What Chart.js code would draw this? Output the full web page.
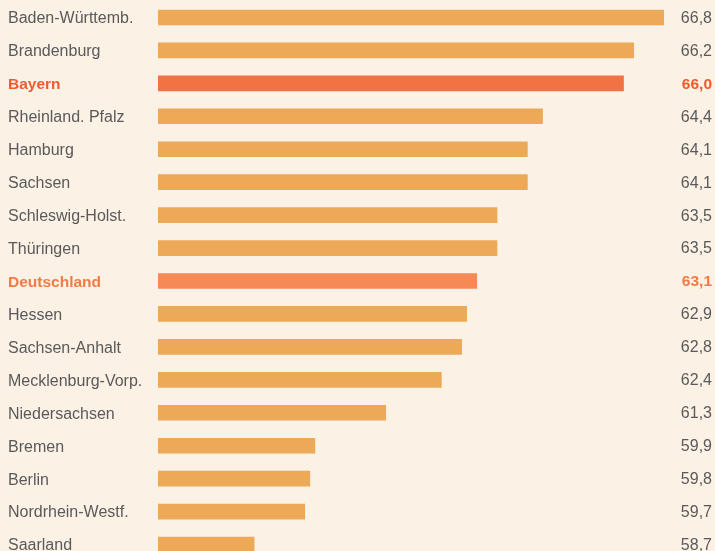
<!DOCTYPE html>
<html>
<head>
<meta charset="utf-8">
<script src="https://cdn.jsdelivr.net/npm/chart.js@4"></script>
<style>
  html, body { margin: 0; padding: 0; background: #fbf1e5; overflow: hidden; }
  #wrap { position: relative; width: 715px; height: 561px; }
</style>
</head>
<body>
<div id="wrap"><canvas id="myChart"></canvas></div>
<script>
// Bundeslaender, sorted as in the source chart
var laender = ['Baden-Württemb.', 'Brandenburg', 'Bayern', 'Rheinland. Pfalz', 'Hamburg', 'Sachsen',
    'Schleswig-Holst.', 'Thüringen', 'Deutschland', 'Hessen', 'Sachsen-Anhalt', 'Mecklenburg-Vorp.',
    'Niedersachsen', 'Bremen', 'Berlin', 'Nordrhein-Westf.', 'Saarland'];
var werte = [66.8, 66.2, 66.0, 64.4, 64.1, 64.1, 63.5, 63.5, 63.1, 62.9, 62.8, 62.4, 61.3, 59.9, 59.8, 59.7, 58.7];
var hervorgehoben = ['Bayern', 'Deutschland'];

var barColors = [];
var textColors = [];
for (var i = 0; i < laender.length; i++) {
    if (laender[i] == 'Bayern') {
        barColors.push('#f27244');
        textColors.push('#f05a2c');
    } else if (laender[i] == 'Deutschland') {
        barColors.push('#f58a57');
        textColors.push('#f27a45');
    } else {
        barColors.push('#eca957');
        textColors.push('#5a5a5a');
    }
}

function isBold(i) {
    return hervorgehoben.indexOf(laender[i]) >= 0;
}

function fontFor(i) {
    return (isBold(i) ? 'bold 15.5px' : '16px') + ' "Liberation Sans", Arial, sans-serif';
}

// value labels on the right edge
var valueLabels = {
    id: 'valueLabels',
    afterDatasetsDraw: function(chart) {
        var ctx = chart.ctx;
        var yScale = chart.scales.y;
        ctx.save();
        ctx.textAlign = 'right';
        ctx.textBaseline = 'middle';
        for (var i = 0; i < werte.length; i++) {
            ctx.font = fontFor(i);
            ctx.fillStyle = textColors[i];
            ctx.fillText(werte[i].toFixed(1).replace('.', ','), 712, yScale.getPixelForValue(i) + 1);
        }
        ctx.restore();
    }
};

var ctx = document.getElementById('myChart');
var myChart = new Chart(ctx, {
    type: 'bar',
    data: {
        labels: laender,
        datasets: [{
            data: werte,
            backgroundColor: barColors,
            barThickness: 15,
            borderWidth: 0
        }]
    },
    plugins: [valueLabels],
    options: {
        indexAxis: 'y',
        responsive: true,
        maintainAspectRatio: false,
        animation: false,
        layout: { padding: { left: 8, right: 51, top: 1, bottom: 0 } },
        plugins: {
            legend: { display: false },
            tooltip: { enabled: false }
        },
        scales: {
            x: {
                display: false,
                min: 56.8,
                max: 66.8
            },
            y: {
                afterFit: function(axis) {
                    axis.width = 150;
                    axis.paddingTop = 0;
                    axis.paddingBottom = 0;
                },
                grid: { display: false, drawTicks: false },
                border: { display: false },
                ticks: {
                    crossAlign: 'far',
                    padding: 0,
                    labelOffset: 1.5,
                    color: function(c) { return textColors[c.index]; },
                    font: function(c) {
                        return {
                            family: '"Liberation Sans", Arial, sans-serif',
                            size: isBold(c.index) ? 15.5 : 16,
                            weight: isBold(c.index) ? 'bold' : 'normal'
                        };
                    }
                }
            }
        }
    }
});
</script>
</body>
</html>
